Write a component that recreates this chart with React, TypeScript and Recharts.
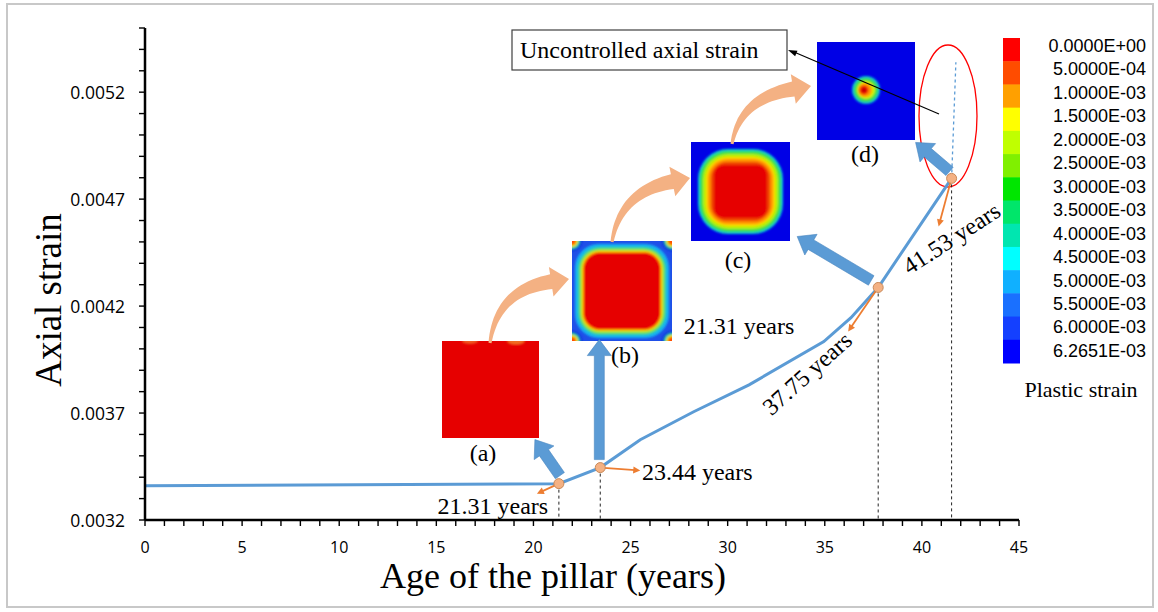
import React from 'react';
import { ComposedChart, Line, XAxis, YAxis, ReferenceDot, ReferenceLine } from 'recharts';

// ─── Data ────────────────────────────────────────────────────────────

const AGE = [0, 21.31, 23.44, 25.5, 28.25, 31.1, 34.95, 36.35, 37.75, 41.53];
const AXIAL_STRAIN = [
  0.00336, 0.00337, 0.003445, 0.003575, 0.003706, 0.003832, 0.004034, 0.004146, 0.004287, 0.004797,
];

// branch after the last stage, strain no longer controlled
const RUNAWAY_AGE = [41.53, 41.75];
const RUNAWAY_STRAIN = [0.004797, 0.00534];

// stages (a)..(d)
const STAGE_AGE = [21.31, 23.44, 37.75, 41.53];
const STAGE_STRAIN = [0.00337, 0.003445, 0.004287, 0.004797];

const X_MAJOR = [0, 5, 10, 15, 20, 25, 30, 35, 40, 45];
const X_TICKS = Array.from({ length: 46 }, (_, i) => i);
const Y_MAJOR = [0.0032, 0.0037, 0.0042, 0.0047, 0.0052];
const Y_TICKS = Array.from({ length: 24 }, (_, i) => Number((0.0032 + i * 0.0001).toFixed(4)));

const LEGEND_LABELS = [
  '0.0000E+00', '5.0000E-04', '1.0000E-03', '1.5000E-03', '2.0000E-03', '2.5000E-03', '3.0000E-03',
  '3.5000E-03', '4.0000E-03', '4.5000E-03', '5.0000E-03', '5.5000E-03', '6.0000E-03', '6.2651E-03',
];
const LEGEND_COLORS = [
  '#ff0000', '#ff4c00', '#ffa000', '#ffff00', '#c0ff00', '#80f000', '#00e600',
  '#00e66a', '#00e6b0', '#00ffff', '#10b0ff', '#1a70ff', '#1440ff', '#0000ff',
];

// ─── Styles ──────────────────────────────────────────────────────────

const SERIF = '"Liberation Serif", "Times New Roman", serif';
const SANS = '"Liberation Sans", Arial, sans-serif';
const TICK_FONT = '"Open Sans", "Liberation Sans", sans-serif';

const BLUE = '#5b9bd5';
const ORANGE = '#ed7d31';
const PEACH = '#f4b183';

// per-stage annotation offsets, relative to the stage point
const STAGE_DECOR = [
  { tip: [-22, 10], label: [-66, 22], angle: 0, block: [[1, -8], [-24, -44]], shaft: 11 },
  { tip: [40, 3], label: [97, 4], angle: 0, block: [[-1, -8], [-1, -128]], shaft: 10 },
  { tip: [-30, 44], label: [-71, 86], angle: -42, block: [[-7, -7], [-81, -51]], shaft: 11 },
  { tip: [-13, 48], label: [0, 60], angle: -33, block: [[-2, -7], [-36, -36]], shaft: 11 },
];

// ─── Geometry helpers ────────────────────────────────────────────────

function blockArrow(x1: number, y1: number, x2: number, y2: number, shaft: number, headW: number, headL: number) {
  const len = Math.hypot(x2 - x1, y2 - y1);
  const ux = (x2 - x1) / len;
  const uy = (y2 - y1) / len;
  const nx = -uy;
  const ny = ux;
  const bx = x2 - ux * headL;
  const by = y2 - uy * headL;
  const hs = shaft / 2;
  const hw = headW / 2;
  const pts = [
    [x1 + nx * hs, y1 + ny * hs],
    [bx + nx * hs, by + ny * hs],
    [bx + nx * hw, by + ny * hw],
    [x2, y2],
    [bx - nx * hw, by - ny * hw],
    [bx - nx * hs, by - ny * hs],
    [x1 - nx * hs, y1 - ny * hs],
  ];
  return pts.map((p) => p.map((v) => v.toFixed(1)).join(',')).join(' ');
}

function arrowHead(x1: number, y1: number, x2: number, y2: number, len: number, w: number) {
  const d = Math.hypot(x2 - x1, y2 - y1);
  const ux = (x2 - x1) / d;
  const uy = (y2 - y1) / d;
  const bx = x2 - ux * len;
  const by = y2 - uy * len;
  return `${x2},${y2} ${bx - uy * w / 2},${by + ux * w / 2} ${bx + uy * w / 2},${by - ux * w / 2}`;
}

// tapered curved arrow along a quadratic bezier
function sweptArrow(s: number[], c: number[], e: number[], w0: number, w1: number, headW: number, headL: number) {
  const el = Math.hypot(e[0] - c[0], e[1] - c[1]);
  const ux = (e[0] - c[0]) / el;
  const uy = (e[1] - c[1]) / el;
  const b = [e[0] - ux * headL, e[1] - uy * headL];
  const left: number[][] = [];
  const right: number[][] = [];
  const N = 24;
  for (let i = 0; i <= N; i++) {
    const t = i / N;
    const px = (1 - t) ** 2 * s[0] + 2 * (1 - t) * t * c[0] + t * t * b[0];
    const py = (1 - t) ** 2 * s[1] + 2 * (1 - t) * t * c[1] + t * t * b[1];
    let dx = 2 * (1 - t) * (c[0] - s[0]) + 2 * t * (b[0] - c[0]);
    let dy = 2 * (1 - t) * (c[1] - s[1]) + 2 * t * (b[1] - c[1]);
    const dl = Math.hypot(dx, dy);
    dx /= dl;
    dy /= dl;
    const w = (w0 + (w1 - w0) * t) / 2;
    left.push([px - dy * w, py + dx * w]);
    right.push([px + dy * w, py - dx * w]);
  }
  const hw = headW / 2;
  const pts = [
    ...left,
    [b[0] - uy * hw, b[1] + ux * hw],
    e,
    [b[0] + uy * hw, b[1] - ux * hw],
    ...right.reverse(),
  ];
  return 'M' + pts.map((p) => `${p[0].toFixed(1)},${p[1].toFixed(1)}`).join(' L') + ' Z';
}

// ─── Ticks ───────────────────────────────────────────────────────────

const XTick = (props: any) => {
  const { x, y, payload } = props;
  const major = X_MAJOR.includes(payload.value);
  return (
    <g>
      <line x1={x} x2={x} y1={y} y2={y + 6} stroke="#000" strokeWidth={1.4} />
      {major && (
        <text x={x} y={y + 27} textAnchor="middle" dominantBaseline="central" fontSize={16} fontFamily={TICK_FONT} fill="#000">
          {payload.value}
        </text>
      )}
    </g>
  );
};

const YTick = (props: any) => {
  const { x, y, payload } = props;
  const major = Y_MAJOR.some((v) => Math.abs(v - payload.value) < 1e-7);
  return (
    <g>
      <line x1={x - 6} x2={x} y1={y} y2={y} stroke="#000" strokeWidth={1.4} />
      {major && (
        <text x={x - 20} y={y} textAnchor="end" dominantBaseline="central" fontSize={17.5} fontFamily={TICK_FONT} fill="#000">
          {payload.value.toFixed(4)}
        </text>
      )}
    </g>
  );
};

// ─── Stage marker: block arrow, point, small arrow, age label ────────

const StageMark = ({ cx, cy, idx }: { cx: number; cy: number; idx: number }) => {
  const d = STAGE_DECOR[idx];
  const [t0, t1] = d.block;
  const tx = cx + d.tip[0];
  const ty = cy + d.tip[1];
  const tl = Math.hypot(d.tip[0], d.tip[1]);
  const lx = cx + d.label[0];
  const ly = cy + d.label[1];
  return (
    <g>
      <polygon
        points={blockArrow(cx + t0[0], cy + t0[1], cx + t1[0], cy + t1[1], d.shaft, 24, 16)}
        fill={BLUE}
        stroke="#4a86c0"
        strokeWidth={0.6}
      />
      <line x1={cx} y1={cy} x2={tx - (d.tip[0] / tl) * 5} y2={ty - (d.tip[1] / tl) * 5} stroke={ORANGE} strokeWidth={1.8} />
      <polygon points={arrowHead(cx, cy, tx, ty, 7, 7)} fill={ORANGE} />
      <circle cx={cx} cy={cy} r={5} fill={PEACH} stroke="#c98a5a" strokeWidth={1} />
      <text
        x={lx}
        y={ly}
        transform={d.angle ? `rotate(${d.angle} ${lx} ${ly})` : undefined}
        textAnchor="middle"
        dominantBaseline="central"
        fontSize={24}
        fontFamily={SERIF}
        fill="#000"
      >
        {`${STAGE_AGE[idx].toFixed(2)} years`}
      </text>
    </g>
  );
};

// ─── Plastic strain contour insets ───────────────────────────────────

type Ring = [number, number, string];

const Contour = ({ id, x, y, size, base, rings, children }: {
  id: string; x: number; y: number; size: number; base: string; rings: Ring[]; children?: React.ReactNode;
}) => (
  <g>
    <defs>
      <clipPath id={id}>
        <rect x={x} y={y} width={size} height={size} />
      </clipPath>
    </defs>
    <g clipPath={`url(#${id})`}>
      <rect x={x} y={y} width={size} height={size} fill={base} />
      <g filter="url(#soft)">
        {rings.map(([inset, rx, fill], i) => (
          <rect key={i} x={x + inset} y={y + inset} width={size - 2 * inset} height={size - 2 * inset} rx={rx} fill={fill} />
        ))}
        {children}
      </g>
    </g>
  </g>
);

const cornerSpots = (x: number, y: number, s: number) =>
  [[x, y], [x + s, y], [x, y + s], [x + s, y + s]].map(([px, py], i) => (
    <g key={i}>
      <circle cx={px} cy={py} r={10} fill="#1030d8" />
      <circle cx={px} cy={py} r={8} fill="#20d0a0" />
      <circle cx={px} cy={py} r={6} fill="#f0e000" />
      <circle cx={px} cy={py} r={4} fill="#ff5000" />
    </g>
  ));

const Overlay = () => (
  <svg width={1158} height={612} style={{ position: 'absolute', left: 0, top: 0 }}>
    <defs>
      <filter id="soft" x="-10%" y="-10%" width="120%" height="120%">
        <feGaussianBlur stdDeviation={1.2} />
      </filter>
    </defs>
    <rect x={7} y={4} width={1146} height={603} fill="#fff" stroke="#c8c8c8" strokeWidth={2} />

    {/* (a) */}
    <Contour id="ca" x={442} y={341} size={97} base="#e60000" rings={[]}>
      <ellipse cx={470} cy={341} rx={8} ry={3} fill="#f05a20" />
      <ellipse cx={516} cy={341} rx={9} ry={4} fill="#f06a20" />
    </Contour>
    {/* (b) */}
    <Contour
      id="cb"
      x={572}
      y={241}
      size={100}
      base="#1f4fe8"
      rings={[[3, 24, '#19b4f0'], [6, 22, '#2ed68c'], [8, 20, '#9be62a'], [10, 18, '#ffd000'], [11, 17, '#ff7a00'], [12, 16, '#e60000']]}
    >
      {cornerSpots(572, 241, 100)}
    </Contour>
    {/* (c) */}
    <Contour
      id="cc"
      x={691}
      y={142}
      size={99}
      base="#0000e6"
      rings={[[7, 30, '#10c8d0'], [9, 28, '#38e048'], [12, 25, '#b8f000'], [15, 22, '#ffd400'], [17, 20, '#ff9000'], [20, 16, '#f04000'], [23, 10, '#e60000']]}
    />
    {/* (d) */}
    <Contour id="cd" x={817} y={42} size={98} base="#0000e6" rings={[]}>
      <circle cx={866} cy={90} r={14} fill="#10c0d0" />
      <circle cx={866} cy={90} r={12} fill="#38e048" />
      <circle cx={866} cy={90} r={9} fill="#d8f000" />
      <circle cx={865} cy={90} r={7} fill="#ff9a00" />
      <circle cx={864} cy={90} r={4.5} fill="#f02000" />
      <circle cx={864} cy={90} r={2.5} fill="#c80000" />
    </Contour>

    <g fontFamily={SERIF} fontSize={24} fill="#000" textAnchor="middle">
      <text x={483} y={461}>(a)</text>
      <text x={625} y={363}>(b)</text>
      <text x={738} y={268}>(c)</text>
      <text x={865} y={162}>(d)</text>
      <text x={739} y={334}>21.31 years</text>
    </g>

    {/* progression between contour stages */}
    <path d={sweptArrow([490, 343], [497, 290], [569, 279], 3, 15, 30, 18)} fill={PEACH} />
    <path d={sweptArrow([612, 242], [620, 192], [690, 178], 3, 15, 30, 18)} fill={PEACH} />
    <path d={sweptArrow([732, 144], [740, 98], [811, 86], 3, 15, 30, 18)} fill={PEACH} />

    {/* uncontrolled strain callout */}
    <ellipse cx={948} cy={116} rx={29} ry={71} fill="none" stroke="#ff0000" strokeWidth={1.3} />
    <line x1={939} y1={114} x2={794} y2={52} stroke="#000" strokeWidth={1.2} />
    <polygon points={arrowHead(939, 114, 788, 50, 9, 6)} fill="#000" />
    <rect x={512} y={30} width={275} height={40} fill="#fff" stroke="#404040" strokeWidth={1.2} />
    <text x={520} y={58} fontFamily={SERIF} fontSize={24} fill="#000">
      Uncontrolled axial strain
    </text>

    {/* colour scale */}
    {LEGEND_COLORS.map((c, i) => (
      <rect key={c} x={1003} y={38 + (i * 325) / 14} width={17} height={325 / 14 + 0.5} fill={c} />
    ))}
    {LEGEND_LABELS.map((t, i) => (
      <text key={t} x={1146} y={46 + i * 23.45} textAnchor="end" dominantBaseline="central" fontFamily={SANS} fontSize={18} fill="#000">
        {t}
      </text>
    ))}
    <text x={1081} y={397} textAnchor="middle" fontFamily={SERIF} fontSize={22} fill="#000">
      Plastic strain
    </text>

    {/* axis titles */}
    <text transform="translate(61 300) rotate(-90)" textAnchor="middle" fontFamily={SERIF} fontSize={37} fill="#000">
      Axial strain
    </text>
    <text x={553} y={588} textAnchor="middle" fontFamily={SERIF} fontSize={36} fill="#000">
      Age of the pillar (years)
    </text>
  </svg>
);

// ─── Chart ───────────────────────────────────────────────────────────

const data = AGE.map((age, i) => ({ age, strain: AXIAL_STRAIN[i] }));
const runaway = RUNAWAY_AGE.map((age, i) => ({ age, strain: RUNAWAY_STRAIN[i] }));

export default function App() {
  return (
    <div style={{ position: 'absolute', left: 0, top: 0, width: 1158, height: 612, background: '#fff' }}>
      <Overlay />
      <div style={{ position: 'absolute', left: 0, top: 0 }}>
        <ComposedChart width={1158} height={612} data={data} margin={{ top: 28, right: 139, bottom: 52, left: 0 }}>
          <XAxis
            dataKey="age"
            type="number"
            domain={[0, 45]}
            ticks={X_TICKS}
            interval={0}
            tickSize={0}
            tickMargin={0}
            tick={<XTick />}
            axisLine={{ stroke: '#000', strokeWidth: 2.5 }}
            tickLine={false}
            height={40}
          />
          <YAxis
            dataKey="strain"
            type="number"
            domain={[0.0032, 0.0055]}
            ticks={Y_TICKS}
            interval={0}
            tickSize={0}
            tickMargin={0}
            tick={<YTick />}
            axisLine={{ stroke: '#000', strokeWidth: 2.5 }}
            tickLine={false}
            width={145}
          />
          {STAGE_AGE.map((age, i) => (
            <ReferenceLine
              key={`drop-${age}`}
              segment={[{ x: age, y: STAGE_STRAIN[i] }, { x: age, y: 0.0032 }]}
              stroke="#222"
              strokeWidth={1}
              strokeDasharray="3 3"
            />
          ))}
          <Line dataKey="strain" type="linear" stroke={BLUE} strokeWidth={3} dot={false} isAnimationActive={false} />
          <Line
            data={runaway}
            dataKey="strain"
            type="linear"
            stroke={BLUE}
            strokeWidth={1.3}
            strokeDasharray="3 3"
            dot={false}
            isAnimationActive={false}
          />
          {STAGE_AGE.map((age, i) => (
            <ReferenceDot
              key={`stage-${age}`}
              x={age}
              y={STAGE_STRAIN[i]}
              r={5}
              shape={(p: any) => <StageMark cx={p.cx} cy={p.cy} idx={i} />}
            />
          ))}
        </ComposedChart>
      </div>
    </div>
  );
}
